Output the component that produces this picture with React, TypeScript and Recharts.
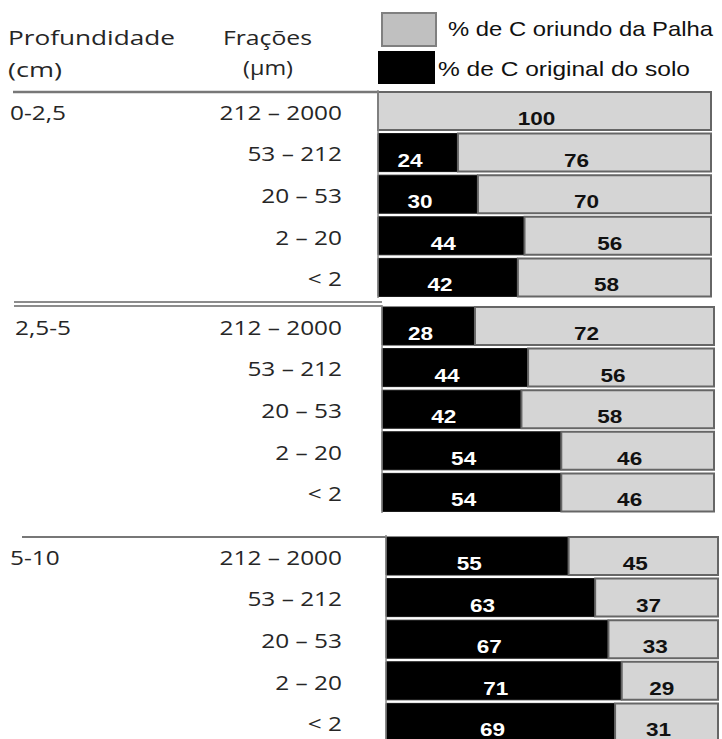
import { BarChart, Bar, XAxis, YAxis, LabelList } from "recharts";

// Frações granulométricas (µm), same order in every depth group
const FRACOES = ["212 – 2000", "53 – 212", "20 – 53", "2 – 20", "< 2"];
const PROFUNDIDADES = ["0-2,5", "2,5-5", "5-10"];

// % de C original do solo / % de C oriundo da palha, per depth
const ORIGINAL_0_25 = [0, 24, 30, 44, 42];
const PALHA_0_25 = [100, 76, 70, 56, 58];
const ORIGINAL_25_5 = [28, 44, 42, 54, 54];
const PALHA_25_5 = [72, 56, 58, 46, 46];
const ORIGINAL_5_10 = [55, 63, 67, 71, 69];
const PALHA_5_10 = [45, 37, 33, 29, 31];

const SERIES = [
  { original: ORIGINAL_0_25, palha: PALHA_0_25 },
  { original: ORIGINAL_25_5, palha: PALHA_25_5 },
  { original: ORIGINAL_5_10, palha: PALHA_5_10 },
];

// the source scan is a little skewed, so each block sits slightly to the right of the one above
const BLOCKS = [
  { top: 90, left: 378, right: 711, labelX: 10 },
  { top: 305, left: 382, right: 714, labelX: 15 },
  { top: 535, left: 386, right: 718, labelX: 10 },
];

const PALHA_FILL = "#d5d5d5";
const LEFT_FONT = "'Open Sans', 'DejaVu Sans', sans-serif";
const BAR_FONT = "'Liberation Sans', Arial, sans-serif";
const TEXT_COLOR = "#262626";
const SX = 1.22; // text in the image is stretched horizontally
const ROW_H = 41.6;

function FracaoTick(props: any) {
  const { y, payload, index, profundidade, labelX } = props;
  const base = y + 9;
  return (
    <g>
      {index === 0 && (
        <text
          transform={`translate(${labelX},${base}) scale(${SX},1)`}
          fontFamily={LEFT_FONT}
          fontSize={20}
          fill={TEXT_COLOR}
        >
          {profundidade}
        </text>
      )}
      <text
        transform={`translate(342,${base}) scale(${SX},1)`}
        textAnchor="end"
        fontFamily={LEFT_FONT}
        fontSize={20}
        fill={TEXT_COLOR}
      >
        {payload.value}
      </text>
    </g>
  );
}

const valorLabel = (cor: string) => (props: any) => {
  const { x, y, width, height, value } = props;
  if (!value) return null;
  const cx = Number(x) + Number(width) / 2 - 8;
  const by = Number(y) + Number(height) / 2 + 14;
  return (
    <text
      transform={`translate(${cx},${by}) scale(1.22,1)`}
      textAnchor="middle"
      fontFamily={BAR_FONT}
      fontWeight="bold"
      fontSize={18.5}
      fill={cor}
    >
      {value}
    </text>
  );
};

function Bloco({ i }: { i: number }) {
  const b = BLOCKS[i];
  const data = FRACOES.map((f, k) => ({
    fracao: f,
    original: SERIES[i].original[k],
    palha: SERIES[i].palha[k],
  }));
  return (
    <div style={{ position: "absolute", top: b.top, left: 0 }}>
      <BarChart
        layout="vertical"
        width={722}
        height={ROW_H * 5}
        data={data}
        margin={{ top: 0, right: 722 - b.right, bottom: 0, left: 0 }}
      >
        <XAxis type="number" domain={[0, 100]} hide />
        <YAxis
          type="category"
          dataKey="fracao"
          width={b.left}
          interval={0}
          axisLine={{ stroke: "#888", strokeWidth: 1.5 }}
          tickLine={false}
          tick={(p: any) => (
            <FracaoTick {...p} profundidade={PROFUNDIDADES[i]} labelX={b.labelX} />
          )}
        />
        <Bar dataKey="original" stackId="a" fill="#000" stroke="#111" strokeWidth={1} barSize={38} isAnimationActive={false}>
          <LabelList dataKey="original" content={valorLabel("#fff")} />
        </Bar>
        <Bar dataKey="palha" stackId="a" fill={PALHA_FILL} stroke="#666" strokeWidth={2} barSize={38} isAnimationActive={false}>
          <LabelList dataKey="palha" content={valorLabel("#111")} />
        </Bar>
      </BarChart>
    </div>
  );
}

export default function App() {
  return (
    <div
      style={{
        position: "absolute",
        top: 0,
        left: 0,
        width: 722,
        height: 739,
        overflow: "hidden",
        background: "#fff",
      }}
    >
      <svg width={722} height={739} style={{ position: "absolute", top: 0, left: 0 }}>
        {/* cabeçalho */}
        <text x={8} y={45} textLength={167} lengthAdjust="spacingAndGlyphs" fontFamily={LEFT_FONT} fontSize={20} fill={TEXT_COLOR}>
          Profundidade
        </text>
        <text x={8} y={77} textLength={54} lengthAdjust="spacingAndGlyphs" fontFamily={LEFT_FONT} fontSize={20} fill={TEXT_COLOR}>
          (cm)
        </text>
        <text x={223} y={45} textLength={89} lengthAdjust="spacingAndGlyphs" fontFamily={LEFT_FONT} fontSize={20} fill={TEXT_COLOR}>
          Frações
        </text>
        <text x={243} y={75} textLength={50} lengthAdjust="spacingAndGlyphs" fontFamily={LEFT_FONT} fontSize={20} fill={TEXT_COLOR}>
          (µm)
        </text>

        {/* legenda */}
        <rect x={382} y={13} width={54} height={33} fill="#c0c0c0" stroke="#808080" strokeWidth={2} />
        <rect x={378} y={51} width={57} height={33} fill="#000" />
        <text x={448} y={36} textLength={265} lengthAdjust="spacingAndGlyphs" fontFamily={BAR_FONT} fontSize={21} fill="#111">
          % de C oriundo da Palha
        </text>
        <text x={438} y={76} textLength={252} lengthAdjust="spacingAndGlyphs" fontFamily={BAR_FONT} fontSize={21} fill="#111">
          % de C original do solo
        </text>

        {/* separadores */}
        <line x1={13} x2={378} y1={92} y2={92} stroke="#777" strokeWidth={2.5} />
        <line x1={14} x2={382} y1={302} y2={302} stroke="#666" strokeWidth={1.5} />
        <line x1={14} x2={382} y1={306} y2={306} stroke="#666" strokeWidth={1.5} />
        <line x1={22} x2={386} y1={537} y2={537} stroke="#777" strokeWidth={2} />
      </svg>
      <Bloco i={0} />
      <Bloco i={1} />
      <Bloco i={2} />
    </div>
  );
}
